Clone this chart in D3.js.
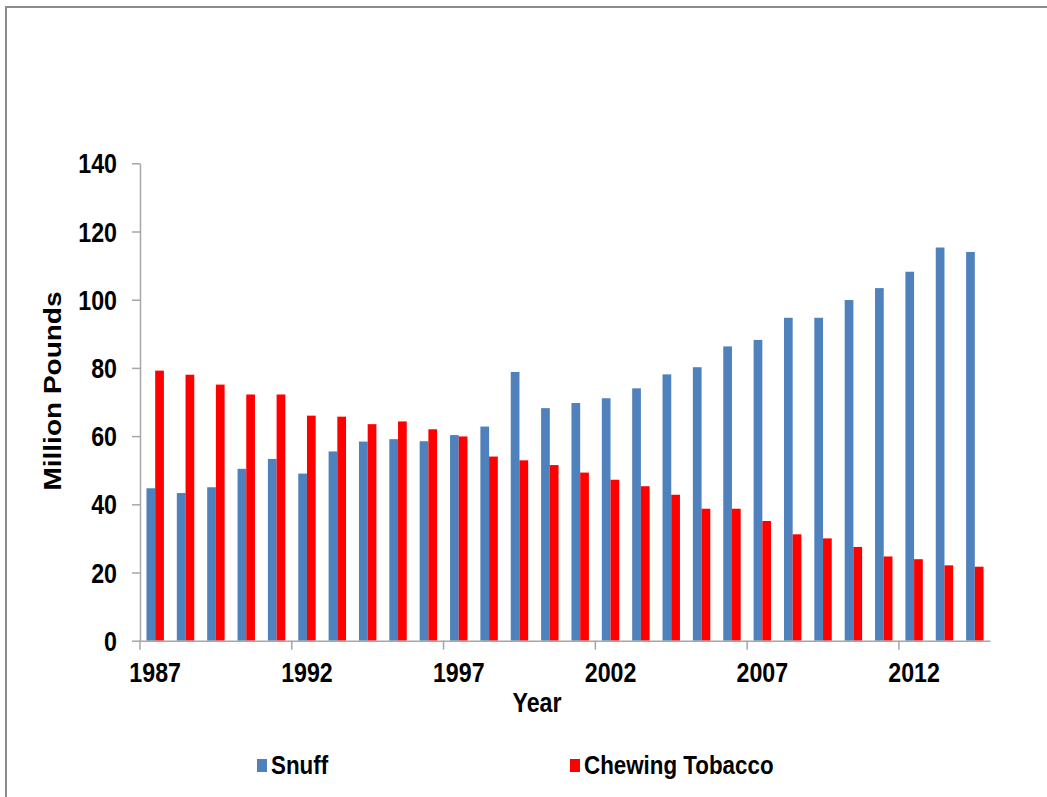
<!DOCTYPE html>
<html>
<head>
<meta charset="utf-8">
<script src="https://cdn.jsdelivr.net/npm/d3@7/dist/d3.min.js"></script>
<style>
  html, body { margin: 0; padding: 0; background: #fff; }
  svg { display: block; }
  text { font-family: "Liberation Sans", Arial, sans-serif; font-weight: bold; fill: #000; }
</style>
</head>
<body>
<svg id="chart" width="1047" height="797"></svg>
<script>
// Annual U.S. smokeless tobacco output, million pounds
const years = d3.range(1987, 2015).map(String);
const snuff = [44.7, 43.3, 45.0, 50.4, 53.3, 49.0, 55.5, 58.4, 59.1, 58.5,
               60.3, 62.8, 78.8, 68.2, 69.7, 71.1, 74.0, 78.1, 80.2, 86.3,
               88.2, 94.7, 94.7, 99.9, 103.4, 108.2, 115.3, 114.0];
const chewing = [79.2, 78.0, 75.1, 72.2, 72.2, 66.0, 65.7, 63.5, 64.3, 62.0,
                 59.9, 54.0, 52.9, 51.5, 49.3, 47.2, 45.3, 42.8, 38.7, 38.7,
                 35.1, 31.2, 30.0, 27.5, 24.7, 23.9, 22.1, 21.7];
const seriesNames = ["Snuff", "Chewing Tobacco"];
const seriesColors = ["#4f81bd", "#ff0000"];
const yTicks = [0, 20, 40, 60, 80, 100, 120, 140];
const labelYears = ["1987", "1992", "1997", "2002", "2007", "2012"];

const rows = years.map((yr, i) => ({ year: yr, values: [snuff[i], chewing[i]] }));

const svg = d3.select("#chart");
const SX = 0.86; // narrow letterforms

// outer frame
svg.append("rect")
  .attr("x", 6).attr("y", 7).attr("width", 1100).attr("height", 900)
  .attr("fill", "none").attr("stroke", "#8c8c8c").attr("stroke-width", 2);

const plotLeft = 140, plotRight = 990, plotTop = 163.3, plotBottom = 640.7;

const xStep = d3.scaleBand().domain(years).range([plotLeft, plotRight]).padding(0);
const x0 = d3.scaleBand().domain(years).range([plotLeft, plotRight])
  .paddingInner(0.426).paddingOuter(0.213);
const x1 = d3.scaleBand().domain([0, 1]).range([0, x0.bandwidth()]);
const y = d3.scaleLinear().domain([0, 140]).range([plotBottom, plotTop]);

// bars
const groups = svg.append("g").selectAll("g").data(rows).join("g")
  .attr("transform", d => `translate(${x0(d.year)},0)`);
groups.selectAll("rect").data(d => d.values.map((v, k) => ({ v, k }))).join("rect")
  .attr("x", d => x1(d.k))
  .attr("width", x1.bandwidth())
  .attr("y", d => y(d.v))
  .attr("height", d => y(0) - y(d.v))
  .attr("fill", d => seriesColors[d.k]);

// y axis
const yAxis = svg.append("g").attr("transform", `translate(${plotLeft},0)`)
  .call(d3.axisLeft(y).tickValues(yTicks).tickSize(8).tickPadding(0).tickSizeOuter(0));
yAxis.select(".domain").attr("stroke", "#a6a6a6").attr("stroke-width", 1.5);
yAxis.selectAll(".tick line").attr("stroke", "#a6a6a6").attr("stroke-width", 1.5);
yAxis.selectAll(".tick text")
  .attr("x", null).attr("dy", null)
  .attr("text-anchor", "end")
  .attr("fill", "#000")
  .attr("transform", `translate(-23,9.5) scale(${SX},1)`)
  .style("font-size", "27px")
  .style("font-family", "'Liberation Sans', Arial, sans-serif")
  .style("font-weight", "bold");

// x axis
const xAxis = svg.append("g").attr("transform", `translate(0,${plotBottom})`)
  .call(d3.axisBottom(xStep).tickValues(labelYears).tickSize(0).tickSizeOuter(0).tickPadding(0));
xAxis.select(".domain").attr("stroke", "#a6a6a6").attr("stroke-width", 1.5);
xAxis.selectAll(".tick text")
  .attr("y", null).attr("dy", null)
  .attr("fill", "#000")
  .attr("transform", `translate(0,41) scale(${SX},1)`)
  .style("font-size", "27px")
  .style("font-family", "'Liberation Sans', Arial, sans-serif")
  .style("font-weight", "bold");
xAxis.selectAll(".tickmark").data(labelYears).join("line")
  .attr("class", "tickmark")
  .attr("x1", d => xStep(d)).attr("x2", d => xStep(d))
  .attr("y1", 0).attr("y2", 9)
  .attr("stroke", "#a6a6a6").attr("stroke-width", 1.5);

// axis titles
svg.append("text")
  .attr("transform", `translate(537,712) scale(${SX},1)`)
  .attr("text-anchor", "middle")
  .style("font-size", "27px")
  .text("Year");

svg.append("text")
  .attr("transform", `translate(61,391) scale(${SX},1) rotate(-90)`)
  .attr("text-anchor", "middle")
  .style("font-size", "28px")
  .text("Million Pounds");

// legend
const legendX = [257, 570];
const legend = svg.append("g").selectAll("g").data(seriesNames).join("g")
  .attr("transform", (d, i) => `translate(${legendX[i]},0)`);
legend.append("rect")
  .attr("x", 0).attr("y", 759).attr("width", 10).attr("height", 13)
  .attr("fill", (d, i) => seriesColors[i]);
legend.append("text")
  .attr("transform", `translate(14,774) scale(${SX},1)`)
  .style("font-size", "26px")
  .text(d => d);
</script>
</body>
</html>
